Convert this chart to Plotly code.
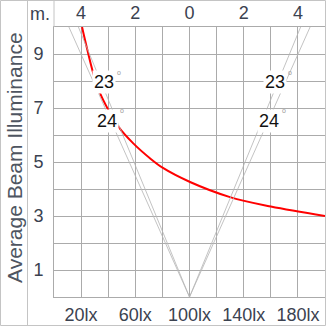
import plotly.graph_objects as go

# ---- data ----
curve_lux = [20.7, 22.9, 29.0, 33.9, 40.1, 47.5, 58.5, 70.8, 80.4, 100.4, 129.9, 160.0, 200.0]
curve_val = [10.0, 9.52, 8.28, 7.56, 6.93, 6.31, 5.69, 5.14, 4.78, 4.26, 3.70, 3.35, 3.0]

beam_outer_m = [-4.45, 0.0, 4.45]
beam_inner_m = [-4.10, 0.0, 4.10]
beam_y = [10.0, 0.0, 10.0]

label_text = ["23", "24", "23", "24"]
label_x = [36.9, 39.1, 163.0, 158.7]
label_y = [7.96, 6.52, 7.96, 6.52]

x_tickvals = [0, 20, 40, 60, 80, 100, 120, 140, 160, 180, 200]
x_ticktext = ["", "20lx", "", "60lx", "", "100lx", "", "140lx", "", "180lx", ""]
m_tickvals = [-4, -2, 0, 2, 4]
m_ticktext = ["4", "2", "0", "2", "4"]
y_tickvals = [0, 1, 2, 3, 4, 5, 6, 7, 8, 9, 10]
y_ticktext = ["", "1", "", "3", "", "5", "", "7", "", "9", ""]

W, H = 326, 326
L, R, T, B = 54, 1, 27, 29
PW, PH = W - L - R, H - T - B

def px(x):
    return (x - L) / PW

def py(y):
    return (H - B - y) / PH

FONT = "Liberation Sans, Arial, sans-serif"
TXT = "#3b4250"
GRID = "#ababab"
BORDER = "#c4c4c4"

fig = go.Figure()

fig.add_trace(go.Scatter(x=beam_outer_m, y=beam_y, xaxis="x2", mode="lines",
                         line=dict(color="#b4b4b4", width=0.8), hoverinfo="skip"))
fig.add_trace(go.Scatter(x=beam_inner_m, y=beam_y, xaxis="x2", mode="lines",
                         line=dict(color="#b4b4b4", width=0.8), hoverinfo="skip"))
fig.add_trace(go.Scatter(x=curve_lux, y=curve_val, mode="lines",
                         line=dict(color="#ff0000", width=2, shape="spline"), hoverinfo="skip"))

for t, x, y in zip(label_text, label_x, label_y):
    fig.add_annotation(x=x, y=y, xref="x", yref="y", text=t,
                       xanchor="center", yanchor="middle",
                       showarrow=False, bgcolor="white", borderpad=1,
                       font=dict(family=FONT, size=18, color="#111111"))
    fig.add_annotation(x=x, y=y, xref="x", yref="y", text="o", xshift=15, yshift=10,
                       xanchor="center", yanchor="middle", showarrow=False,
                       font=dict(family=FONT, size=7, color="#9a9a9a"))

fig.add_annotation(x=px(40), y=py(14), xref="paper", yref="paper", text="m.",
                   xanchor="center", yanchor="middle",
                   showarrow=False, font=dict(family=FONT, size=18, color=TXT))
fig.add_annotation(x=px(14), y=py(158), xref="paper", yref="paper", text="Average Beam Illuminance",
                   xanchor="center", yanchor="middle",
                   textangle=-90, showarrow=False, font=dict(family=FONT, size=21, color="#4e5561"))

shapes = []
def seg(x0, y0, x1, y1):
    shapes.append(dict(type="line", xref="paper", yref="paper", x0=px(x0), y0=py(y0),
                       x1=px(x1), y1=py(y1), line=dict(color=BORDER, width=1), layer="above"))
seg(0.5, 0.5, 325.5, 0.5)
seg(0.5, 325.5, 325.5, 325.5)
seg(0.5, 0.5, 0.5, 325.5)
seg(325.5, 0.5, 325.5, 325.5)
seg(27.5, 0.5, 27.5, 325.5)
seg(54, 0.5, 54, 27)

fig.update_layout(
    width=W, height=H, margin=dict(l=L, r=R, t=T, b=B),
    paper_bgcolor="white", plot_bgcolor="white", showlegend=False,
    shapes=shapes,
    xaxis=dict(range=[0, 200], tickvals=x_tickvals, ticktext=x_ticktext,
               showgrid=True, gridcolor=GRID, gridwidth=1, zeroline=False,
               showline=True, linecolor=GRID, mirror=False, ticks="", ticklabelstandoff=1,
               tickfont=dict(family=FONT, size=18, color=TXT), fixedrange=True),
    xaxis2=dict(range=[-5, 5], overlaying="x", side="top", tickvals=m_tickvals, ticktext=m_ticktext,
                showgrid=False, zeroline=False, showline=True, linecolor=GRID, ticks="",
                tickfont=dict(family=FONT, size=18, color=TXT), ticklabelstandoff=0),
    yaxis=dict(range=[0, 10], tickvals=y_tickvals, ticktext=y_ticktext,
               showgrid=True, gridcolor=GRID, gridwidth=1, zeroline=False,
               showline=True, linecolor=GRID, mirror=True, ticks="", ticklabelstandoff=6,
               tickfont=dict(family=FONT, size=18, color=TXT)),
)

fig.write_html("out.html")
